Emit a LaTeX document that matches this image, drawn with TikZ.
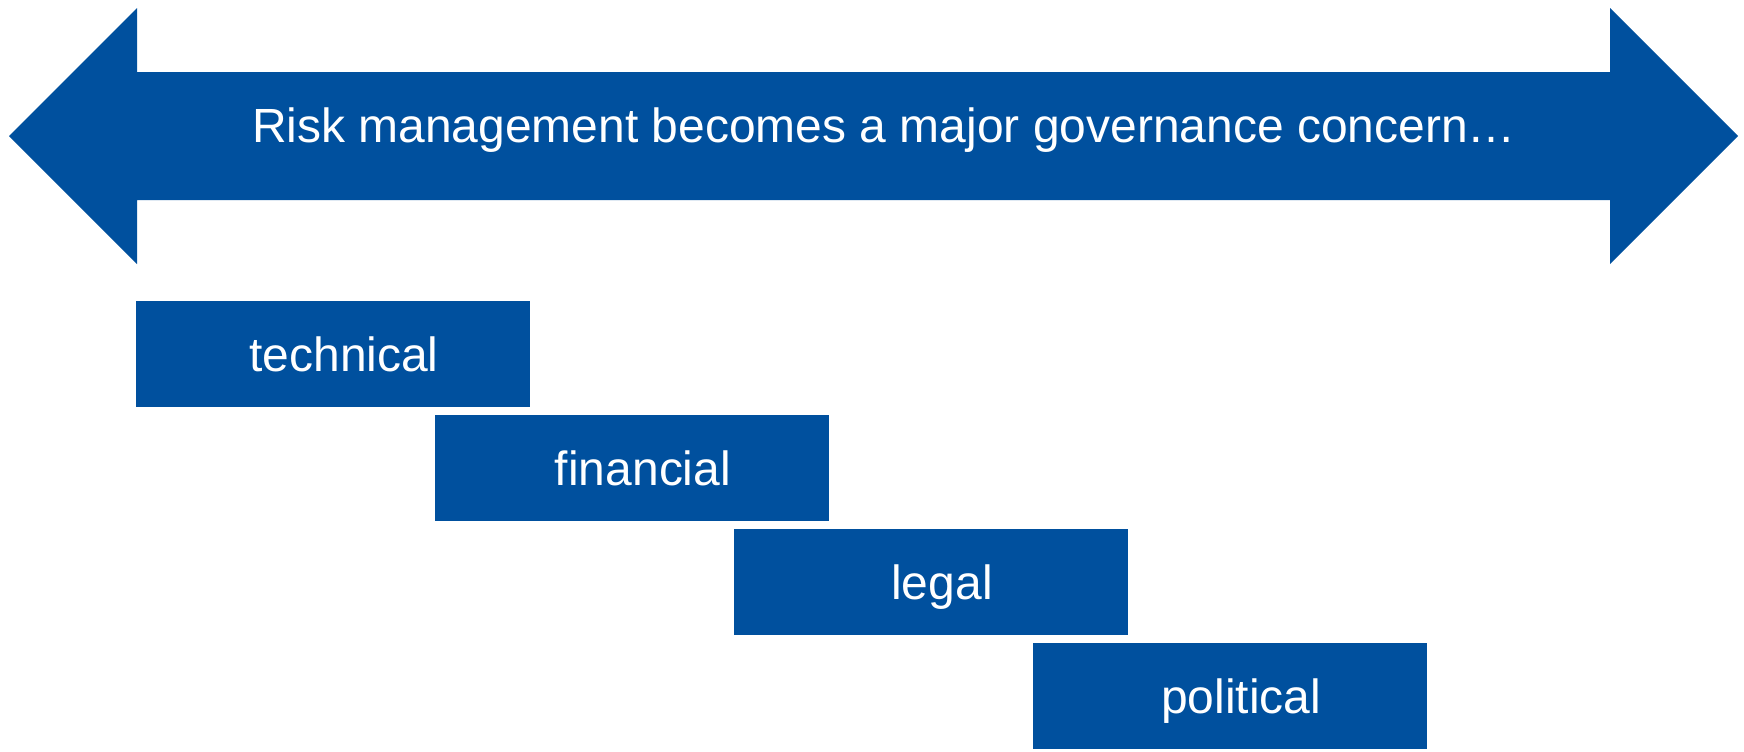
\documentclass[tikz,border=0pt]{standalone}
\usepackage{fontspec}
\setmainfont{Liberation Sans}
\usepackage{tikz}
\usepackage{xcolor}
\definecolor{riskblue}{RGB}{0,80,158}

\tikzset{
    catbox/.style={fill=riskblue, draw=none, inner sep=0pt, minimum width=7.88cm, minimum height=2.12cm,
        text=white, font=\fontsize{27.3}{32}\selectfont, text height=0.68cm, text depth=0pt,
        execute at begin node={\hspace*{0.44cm}}},
    bannertext/.style={text=white, font=\fontsize{27.3}{32}\selectfont, inner sep=0pt}
}

\begin{document}
\begin{tikzpicture}[x=0.2mm, y=-0.2mm]
    \useasboundingbox (0,0) rectangle (1744,751);
    % double arrow
    \fill[riskblue] (9,136) -- (137,8) -- (137,72) -- (1610,72) -- (1610,8) -- (1738,136)
        -- (1610,264) -- (1610,200) -- (137,200) -- (137,264) -- cycle;
    \node[bannertext, anchor=base] (banner) at (884,142) {Risk management becomes a major governance concern…};
    % categories
    \node[catbox] (technical) at (333,354) {technical};
    \node[catbox] (financial) at (632,468) {financial};
    \node[catbox] (legal) at (931,582) {legal};
    \node[catbox] (political) at (1230,696) {political};
\end{tikzpicture}
\end{document}
